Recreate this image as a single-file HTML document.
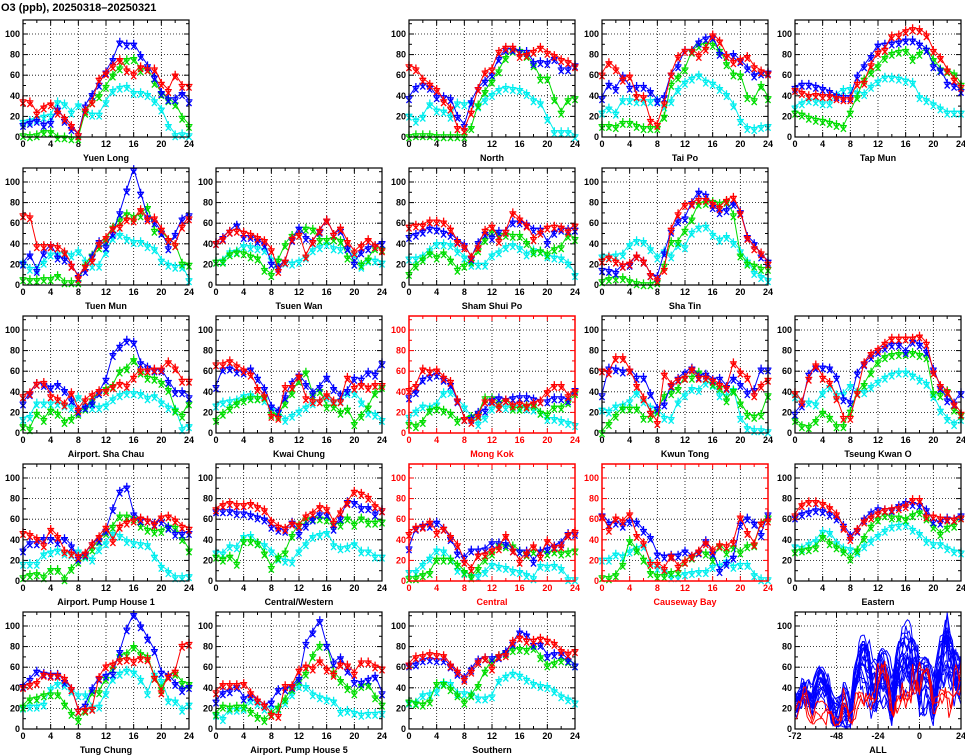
<!DOCTYPE html>
<html><head><meta charset="utf-8">
<style>
html,body{margin:0;padding:0;background:#fff;}
svg{display:block;font-family:"Liberation Sans",sans-serif;}
</style></head>
<body>
<svg id="c" width="965" height="755" viewBox="0 0 965 755" xmlns="http://www.w3.org/2000/svg">
<text x="1" y="11" font-size="11" font-weight="bold">O3 (ppb), 20250318–20250321</text>
</svg>
<script>
const stationNames=["Yuen Long","North","Tai Po","Tap Mun","Tuen Mun","Tsuen Wan","Sham Shui Po","Sha Tin","Airport. Sha Chau","Kwai Chung","Mong Kok","Kwun Tong","Tseung Kwan O","Airport. Pump House 1","Central/Western","Central","Causeway Bay","Eastern","Tung Chung","Airport. Pump House 5","Southern"];
const roadside=[false,false,false,false,false,false,false,false,false,false,true,false,false,false,false,true,true,false,false,false,false];
const xTicks=[0,4,8,12,16,20,24];
const yTicks=[0,20,40,60,80,100];
const allXTicks=[-72,-48,-24,0,24];
const redSeries=[
[36,35,24,30,33,25,19,12,3,27,35,57,63,70,76,66,62,69,67,67,53,46,61,51,51],
[70,67,57,52,47,36,29,10,8,25,48,64,67,84,88,88,80,81,84,88,83,80,76,74,70],
[62,73,67,57,60,41,40,17,13,34,62,79,85,85,80,87,100,94,80,74,76,79,69,65,63],
[47,44,41,42,41,41,39,38,38,53,54,71,83,86,99,100,104,106,105,100,85,78,66,57,50],
[69,67,39,39,39,38,33,20,8,19,25,41,47,56,58,65,64,74,65,66,55,45,40,58,66],
[42,46,53,54,52,50,47,44,35,15,24,46,50,29,43,54,64,50,56,43,33,39,45,39,35],
[58,59,59,63,63,62,55,43,38,28,38,54,58,44,53,71,65,59,46,52,57,58,57,53,59],
[25,28,24,20,22,29,24,11,6,16,55,70,79,80,84,84,80,76,83,86,71,47,37,32,22],
[37,40,49,50,37,34,29,40,24,33,38,42,42,46,49,47,55,62,62,63,63,70,64,52,52],
[68,68,71,66,62,58,44,37,18,16,46,46,56,35,32,32,38,32,32,55,45,48,45,48,48],
[43,47,63,61,62,55,51,33,15,12,18,32,32,26,33,28,30,27,30,32,41,47,47,37,42],
[62,60,74,74,62,47,35,21,11,58,48,53,55,63,55,55,52,48,45,69,60,55,38,47,53],
[40,31,54,67,55,50,35,16,16,40,69,78,82,88,93,93,93,93,95,88,60,47,41,29,20],
[48,46,42,36,51,44,30,28,25,28,37,44,53,40,54,58,60,62,60,56,63,64,60,54,52],
[71,75,77,75,75,76,73,70,59,54,52,57,55,64,67,73,71,58,68,77,88,86,82,74,70],
[47,53,54,58,48,52,44,36,20,13,26,27,31,33,45,31,20,28,35,25,40,34,35,46,49],
[64,51,62,59,66,45,38,18,18,13,25,15,20,25,30,38,31,36,35,39,63,48,37,57,60],
[65,75,78,78,76,72,66,53,42,51,59,63,67,70,71,72,74,80,80,64,64,62,61,61,63],
[42,44,46,54,53,53,50,40,19,20,21,51,62,64,68,69,67,70,69,51,37,52,57,82,84],
[37,44,44,44,45,36,29,24,15,14,43,43,58,62,60,67,59,54,64,63,55,66,66,62,60],
[64,71,72,74,73,72,63,57,49,57,66,70,60,72,73,86,90,87,87,89,87,84,77,74,77]];
const blueSeries=[
[13,15,17,13,15,28,17,9,3,31,42,52,64,76,93,91,91,80,70,59,44,38,38,43,36],
[39,49,52,49,40,40,38,21,12,35,48,55,62,77,86,86,84,84,73,74,73,77,67,67,71],
[39,52,48,60,49,50,50,45,36,40,62,70,85,85,93,97,98,82,80,81,75,68,61,63,64],
[49,52,52,50,48,45,41,40,40,60,70,79,90,91,92,93,95,95,91,86,70,66,53,51,46],
[22,30,15,32,39,28,26,20,9,15,29,43,38,51,71,93,113,90,67,62,52,37,50,65,69],
[42,47,53,59,48,48,44,40,22,18,24,45,56,47,43,53,64,50,54,37,22,33,37,39,42],
[48,50,53,56,55,52,50,44,40,27,42,51,47,53,53,62,62,60,55,55,42,52,55,55,55],
[16,15,13,20,21,29,24,11,9,32,53,63,66,81,91,88,77,72,74,80,72,48,41,29,24],
[30,39,49,48,45,48,42,33,22,26,30,40,53,77,85,91,89,69,65,62,62,51,41,41,36],
[46,63,64,61,60,63,54,44,27,22,36,50,57,48,40,46,55,44,38,42,54,53,60,58,69],
[36,41,53,56,58,53,48,32,15,15,21,23,33,35,33,35,36,36,34,32,32,35,35,33,43],
[38,64,63,61,62,55,55,39,25,29,47,54,59,64,56,58,53,54,46,54,48,40,43,63,63],
[20,28,58,65,65,64,55,34,31,59,68,75,80,84,87,87,80,90,87,80,63,45,33,30,40],
[31,38,38,42,42,39,42,35,23,27,37,41,50,71,88,92,66,60,60,57,59,53,47,47,48],
[69,69,69,67,67,65,63,61,54,51,50,58,47,55,61,66,66,52,62,78,77,72,72,66,70],
[33,52,55,55,58,52,42,28,24,31,31,32,38,38,37,31,30,30,20,30,32,35,38,47,47],
[65,57,58,55,59,58,50,43,27,25,26,26,30,25,29,40,28,11,18,24,56,62,57,46,66],
[63,66,68,70,69,66,62,55,45,50,61,67,71,70,70,74,77,76,75,70,59,58,62,61,65],
[43,49,57,55,54,54,47,40,19,24,40,50,53,55,76,98,112,101,89,77,56,53,45,39,42],
[28,36,38,42,31,33,29,24,27,39,40,42,50,84,95,106,82,65,70,58,47,46,49,52,36],
[63,64,68,69,68,68,62,55,51,59,68,70,70,71,76,84,95,92,83,83,72,74,74,68,63]];
const greenSeries=[
[3,2,3,6,6,1,1,0,0,25,35,41,50,61,68,76,77,66,67,54,43,37,33,20,12],
[2,3,3,3,2,2,2,2,2,10,32,45,55,65,78,85,85,80,71,58,58,38,25,37,39],
[12,12,11,15,15,12,10,10,10,21,52,59,67,84,90,91,91,85,72,62,61,40,37,51,39],
[25,23,20,18,17,15,13,11,25,40,57,64,70,78,82,84,85,77,82,86,76,67,65,62,52],
[7,6,6,7,7,10,4,4,4,20,30,38,44,57,64,70,67,69,76,54,52,45,40,22,21],
[24,24,31,33,32,29,27,16,11,25,40,49,50,56,55,45,45,46,44,28,22,21,26,37,36],
[12,20,26,32,28,32,25,16,20,24,35,45,53,50,50,49,49,42,33,34,31,36,38,49,46],
[5,7,8,8,5,3,2,2,4,20,43,43,54,65,80,81,82,80,82,69,30,22,20,17,17],
[8,5,20,14,23,20,12,15,20,25,33,40,44,47,61,64,72,60,55,54,50,43,23,18,30],
[14,20,25,30,33,35,35,36,20,18,30,40,52,60,38,42,27,27,21,24,10,18,26,40,46],
[10,8,12,23,25,23,20,13,15,17,19,35,35,30,33,25,25,28,28,21,19,26,26,31,40],
[2,10,18,25,25,25,16,16,22,37,40,44,55,55,60,55,49,45,33,42,30,19,17,19,38],
[14,8,7,13,21,16,8,8,22,40,48,60,70,75,77,78,78,79,77,75,40,38,42,24,19],
[5,7,8,5,12,12,3,13,20,26,32,40,48,54,64,64,62,55,51,49,50,54,53,42,31],
[25,22,25,18,40,40,38,28,14,24,29,45,56,61,62,62,61,56,56,62,56,62,58,58,59],
[4,4,7,9,22,22,22,17,10,5,13,22,28,36,35,35,30,27,30,30,28,30,28,29,31],
[5,4,7,17,40,31,22,9,6,6,9,10,20,24,29,28,22,35,29,34,29,35,36,57,63],
[30,31,32,34,44,38,34,30,23,31,43,54,61,65,63,63,61,65,68,62,54,47,53,55,63],
[23,30,31,34,35,35,25,16,10,19,37,37,50,60,72,74,81,74,71,51,40,53,55,46,45],
[16,23,22,23,23,18,13,10,16,22,30,40,48,55,72,82,82,56,48,41,36,43,44,32,25],
[28,26,25,28,45,45,40,34,27,34,43,57,67,72,75,78,79,78,80,71,63,65,68,67,63]];
const cyanSeries=[
[16,17,19,21,22,35,33,25,32,25,23,23,35,46,49,50,44,44,42,36,28,12,3,4,3],
[22,17,21,33,27,26,21,34,33,34,31,37,42,47,49,48,47,43,37,34,19,6,6,6,2],
[25,29,24,37,37,36,36,36,37,31,36,47,54,58,61,55,53,48,42,32,17,10,9,11,12],
[30,34,37,36,34,34,42,47,48,44,43,50,55,59,59,58,56,54,40,37,33,29,25,25,25],
[23,17,17,23,31,31,32,30,34,24,20,20,33,47,50,46,43,43,39,36,25,21,19,19,6],
[24,25,33,34,39,38,37,35,26,25,23,22,24,28,35,38,41,37,36,37,31,19,25,25,23],
[27,27,29,35,41,41,40,34,28,21,21,21,30,33,38,40,37,31,35,34,29,28,27,22,11],
[29,29,30,31,40,44,43,36,28,34,29,40,38,52,57,58,50,45,48,42,34,24,13,9,6],
[15,17,30,30,30,30,28,26,36,28,26,26,28,34,38,40,40,39,35,37,31,26,24,5,8],
[28,31,32,33,37,38,35,33,24,21,14,18,22,26,30,32,36,31,33,40,40,31,21,19,14],
[17,22,27,26,29,40,41,33,26,16,10,16,25,27,26,27,27,25,24,21,15,15,13,11,9],
[24,22,27,28,32,40,32,26,23,16,15,31,38,44,43,50,48,38,37,43,16,6,4,4,3],
[37,31,31,29,40,46,38,39,47,41,41,46,51,55,58,60,60,57,53,49,37,23,15,10,15],
[18,18,18,27,29,31,28,27,30,25,22,32,38,47,45,40,38,37,36,25,15,10,5,5,6],
[29,28,35,34,44,45,38,36,30,23,21,20,30,37,44,46,48,36,33,34,37,30,30,25,25],
[10,10,17,23,31,30,22,12,9,6,6,10,17,15,14,11,10,7,4,16,15,16,13,3,3],
[22,22,27,25,30,33,35,20,14,11,5,5,8,9,10,10,15,16,20,15,17,17,7,3,3],
[35,33,37,40,49,48,38,33,32,29,35,40,45,50,54,55,56,51,47,40,37,37,33,30,29],
[22,23,23,25,40,45,44,38,34,34,22,23,36,50,55,58,56,49,36,54,48,29,28,20,25],
[15,11,20,20,21,29,26,21,22,21,27,35,43,42,35,32,30,28,18,19,17,15,16,16,17],
[27,27,34,35,38,46,45,36,36,35,31,31,33,48,52,55,53,49,45,43,42,38,33,30,27]];

const NS="http://www.w3.org/2000/svg";
const svg=document.getElementById('c');
const colL=[23,216,409,602,795], rowB=[137,285,433,581,729];
const slots=[[0,0],[0,2],[0,3],[0,4],[1,0],[1,1],[1,2],[1,3],[2,0],[2,1],[2,2],[2,3],[2,4],[3,0],[3,1],[3,2],[3,3],[3,4],[4,0],[4,1],[4,2]];
const W=166,H=117,YMAX=H/1.03;
function el(tag,attrs,parent){const e=document.createElementNS(NS,tag);for(const k in attrs)e.setAttribute(k,attrs[k]);(parent||svg).appendChild(e);return e;}
const STAR="m-3.5,0h7m-3.5,-3.5v7m-2.6,-2.6l5.2,5.2m0,-5.2l-5.2,5.2";

function frame(g,L,B,xmin,xmax,xt,minorStep,col,name){
  const X=v=>L+(v-xmin)/(xmax-xmin)*W, Y=v=>B-v/YMAX*H;
  for(const t of xt){ if(t===xmin||t===xmax)continue;
    const gl=el('line',{x1:X(t),x2:X(t),y1:B,y2:B-H,stroke:'#000','stroke-width':0.8,'stroke-dasharray':'1,2'},g);
    }
  for(const t of yTicks){ if(t===0)continue;
    const gl=el('line',{x1:L,x2:L+W,y1:Y(t),y2:Y(t),stroke:'#000','stroke-width':0.8,'stroke-dasharray':'1,2'},g);
    }
  for(let t=xmin;t<=xmax;t+=minorStep){const len=(xt.includes(t))?5:3;
    el('line',{x1:X(t),x2:X(t),y1:B,y2:B-len,stroke:col},g);el('line',{x1:X(t),x2:X(t),y1:B-H,y2:B-H+len,stroke:col},g);}
  for(let t=0;t<=110;t+=10){const len=(t%20===0)?5:3;
    el('line',{x1:L,x2:L+len,y1:Y(t),y2:Y(t),stroke:col},g);el('line',{x1:L+W,x2:L+W-len,y1:Y(t),y2:Y(t),stroke:col},g);}
  for(const t of xt){const tx=el('text',{x:X(t),y:B+10,'font-size':9,'font-weight':'bold','text-anchor':'middle',fill:col},g);tx.textContent=String(t);
    }
  for(const t of yTicks){const tx=el('text',{x:L-3,y:Y(t)+3,'font-size':9,'font-weight':'bold','text-anchor':'end',fill:col},g);tx.textContent=t;
    }
  const t=el('text',{x:L+W/2,y:B+24,'font-size':9,'font-weight':'bold','text-anchor':'middle',fill:col},g);t.textContent=name;
  
  return {X,Y};
}

stationNames.forEach((nm,i)=>{
  const [r,c]=slots[i];const L=colL[c],B=rowB[r];
  const col=roadside[i]?'#ff0000':'#000';
  const g=el('g',{});
  
  
  const {X,Y}=frame(g,L,B,0,24,xTicks,2,col,nm);
  const sets=[[cyanSeries[i],'#00eeee','cyan'],[greenSeries[i],'#00dd00','green'],[blueSeries[i],'#0000ff','blue'],[redSeries[i],'#ff0000','red']];
  for(const [d,clr,sn] of sets){
    const pts=d.map((v,h)=>X(h).toFixed(1)+','+Y(v).toFixed(1)).join(' ');
    const pl=el('polyline',{points:pts,fill:'none',stroke:clr,'stroke-width':1},g);
    
    d.forEach((v,h)=>{const m=el('path',{d:'M'+X(h).toFixed(1)+','+Y(v).toFixed(1)+STAR,stroke:clr,'stroke-width':1.3,fill:'none'},g);
      });
  }
  const fr=el('rect',{x:L,y:B-H,width:W,height:H,fill:'none',stroke:col,'stroke-width':roadside[i]?1.5:1.2},g);
  
});

// ALL panel
(function(){
  const L=colL[4],B=rowB[4];
  const g=el('g',{});
  
  const {X,Y}=frame(g,L,B,-72,24,allXTicks,6,'#000','ALL');
  const order=[...stationNames.keys()].filter(i=>!roadside[i]).concat([...stationNames.keys()].filter(i=>roadside[i]));
  for(const i of order){
    const seq=[].concat(cyanSeries[i].slice(0,24),greenSeries[i].slice(0,24),redSeries[i].slice(0,24),blueSeries[i]);
    const pts=seq.map((v,k)=>X(k-72).toFixed(1)+','+Y(v).toFixed(1)).join(' ');
    const pl=el('polyline',{points:pts,fill:'none',stroke:roadside[i]?'#ff0000':'#0000ff','stroke-width':1},g);
    
  }
  const fr=el('rect',{x:L,y:B-H,width:W,height:H,fill:'none',stroke:'#000','stroke-width':1.2},g);
  
})();
</script>
</body></html>
